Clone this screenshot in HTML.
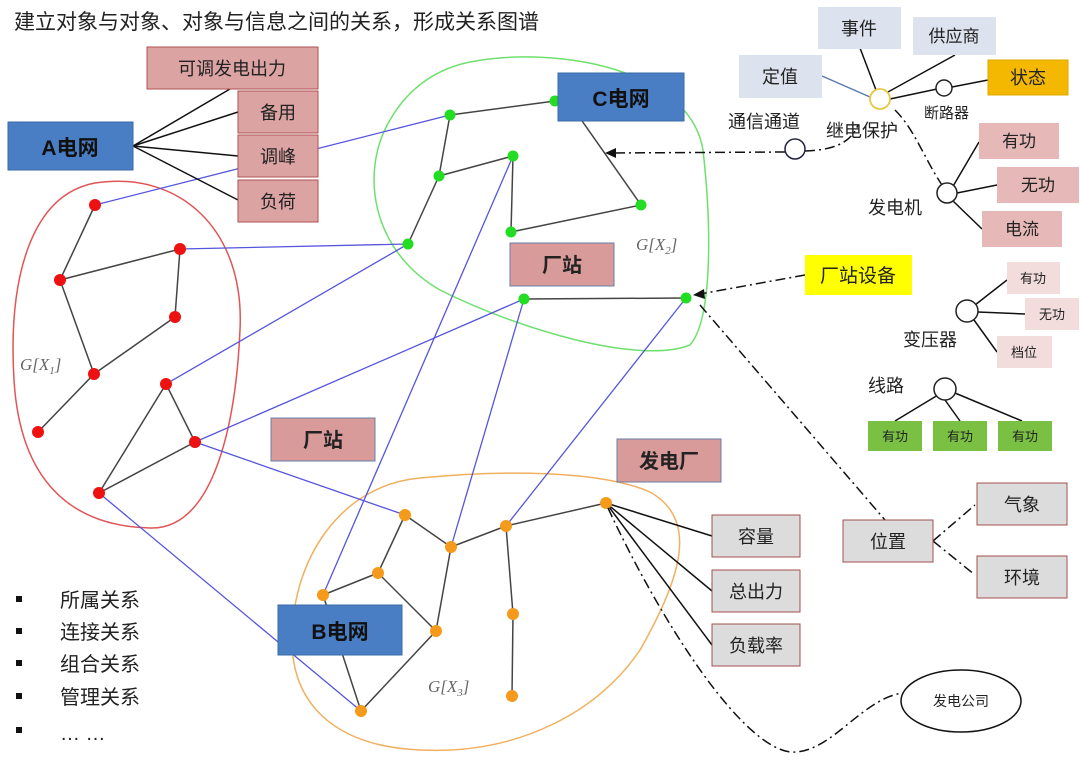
<!DOCTYPE html>
<html><head><meta charset="utf-8"><style>
body{margin:0;background:#fff}
svg{display:block}
text{font-family:"Liberation Sans","Noto Sans CJK SC",sans-serif}
.g{font-family:"Liberation Serif",serif;font-style:italic;fill:#666;font-size:17px}
</style></head><body>
<svg width="1080" height="772" viewBox="0 0 1080 772" xmlns="http://www.w3.org/2000/svg">
<text x="14" y="29" font-size="21" fill="#222">建立对象与对象、对象与信息之间的关系，形成关系图谱</text>

<!-- blobs -->
<path d="M95,183 C180,170 245,230 240,330 C236,420 215,530 150,528 C70,526 20,480 14,380 C8,280 30,195 95,183 Z" fill="none" stroke="#e05555" stroke-width="1.5"/>
<path d="M470,62 C560,45 690,70 703,150 C712,230 712,320 690,345 C640,365 520,330 440,290 C370,250 360,170 390,120 C410,85 440,68 470,62 Z" fill="none" stroke="#6ee06e" stroke-width="1.5"/>
<path d="M420,478 C500,470 600,470 650,492 C700,520 680,580 640,650 C600,710 520,755 420,750 C330,746 292,700 292,640 C292,560 340,485 420,478 Z" fill="none" stroke="#f0b060" stroke-width="1.5"/>

<!-- blue edges -->
<g stroke="#5555dd" stroke-width="1.3">
<line x1="95" y1="205" x2="450" y2="115"/>
<line x1="180" y1="249" x2="408" y2="244"/>
<line x1="166" y1="384" x2="408" y2="244"/>
<line x1="195" y1="442" x2="524" y2="299"/>
<line x1="195" y1="442" x2="405" y2="515"/>
<line x1="99" y1="493" x2="361" y2="711"/>
<line x1="323" y1="595" x2="513" y2="156"/>
<line x1="451" y1="547" x2="524" y2="299"/>
<line x1="506" y1="526" x2="686" y2="298"/>
</g>
<!-- graph edges -->
<g stroke="#444" stroke-width="1.5">
<line x1="95" y1="205" x2="60" y2="280"/><line x1="60" y1="280" x2="180" y2="249"/>
<line x1="180" y1="249" x2="175" y2="317"/><line x1="175" y1="317" x2="94" y2="374"/>
<line x1="60" y1="280" x2="94" y2="374"/><line x1="94" y1="374" x2="38" y2="432"/>
<line x1="166" y1="384" x2="195" y2="442"/><line x1="166" y1="384" x2="99" y2="493"/>
<line x1="195" y1="442" x2="99" y2="493"/>
<line x1="450" y1="115" x2="555" y2="101"/><line x1="450" y1="115" x2="439" y2="176"/>
<line x1="439" y1="176" x2="513" y2="156"/><line x1="439" y1="176" x2="408" y2="244"/>
<line x1="513" y1="156" x2="511" y2="232"/><line x1="511" y1="232" x2="641" y2="205"/>
<line x1="580" y1="118" x2="641" y2="205"/><line x1="524" y1="299" x2="686" y2="298"/>
<line x1="405" y1="515" x2="451" y2="547"/><line x1="451" y1="547" x2="506" y2="526"/>
<line x1="506" y1="526" x2="606" y2="503"/><line x1="405" y1="515" x2="378" y2="573"/>
<line x1="378" y1="573" x2="323" y2="595"/><line x1="378" y1="573" x2="436" y2="631"/>
<line x1="451" y1="547" x2="436" y2="631"/><line x1="436" y1="631" x2="361" y2="711"/>
<line x1="506" y1="526" x2="513" y2="614"/><line x1="513" y1="614" x2="512" y2="696"/>
<line x1="323" y1="595" x2="361" y2="711"/>
</g>
<!-- A tree -->
<g stroke="#111" stroke-width="1.5">
<line x1="133" y1="146" x2="230" y2="89"/><line x1="133" y1="146" x2="238" y2="112"/>
<line x1="133" y1="146" x2="238" y2="156"/><line x1="133" y1="146" x2="238" y2="200"/>
<line x1="606" y1="503" x2="712" y2="536"/><line x1="606" y1="503" x2="712" y2="591"/>
<line x1="606" y1="503" x2="712" y2="645"/>
</g>
<!-- nodes -->
<g fill="#ee1111">
<circle cx="95" cy="205" r="6"/><circle cx="180" cy="249" r="6"/><circle cx="60" cy="280" r="6"/>
<circle cx="175" cy="317" r="6"/><circle cx="94" cy="374" r="6"/><circle cx="38" cy="432" r="6"/>
<circle cx="166" cy="384" r="6"/><circle cx="195" cy="442" r="6"/><circle cx="99" cy="493" r="6"/>
</g>
<g fill="#22dd22">
<circle cx="555" cy="101" r="5.5"/><circle cx="450" cy="115" r="5.5"/><circle cx="439" cy="176" r="5.5"/>
<circle cx="513" cy="156" r="5.5"/><circle cx="511" cy="232" r="5.5"/><circle cx="641" cy="205" r="5.5"/>
<circle cx="408" cy="244" r="5.5"/><circle cx="524" cy="299" r="5.5"/><circle cx="686" cy="298" r="5.5"/>
</g>
<g fill="#f59a1a">
<circle cx="405" cy="515" r="6"/><circle cx="451" cy="547" r="6"/><circle cx="506" cy="526" r="6"/>
<circle cx="606" cy="503" r="6"/><circle cx="378" cy="573" r="6"/><circle cx="323" cy="595" r="6"/>
<circle cx="436" cy="631" r="6"/><circle cx="513" cy="614" r="6"/><circle cx="512" cy="696" r="6"/>
<circle cx="361" cy="711" r="6"/>
</g>
<text class="g" x="20" y="370">G[X<tspan font-size="11" dy="4">1</tspan><tspan dy="-4">]</tspan></text>
<text class="g" x="636" y="250">G[X<tspan font-size="11" dy="4">2</tspan><tspan dy="-4">]</tspan></text>
<text class="g" x="428" y="692">G[X<tspan font-size="11" dy="4">3</tspan><tspan dy="-4">]</tspan></text>

<!-- dash-dot connectors -->
<g fill="none" stroke="#111" stroke-width="1.5" stroke-dasharray="10,4,2,4">
<line x1="785" y1="152" x2="612" y2="153"/>
<path d="M805,151 C830,150 850,145 858,125"/>
<path d="M895,110 C915,130 925,160 942,185"/>
<line x1="805" y1="275" x2="700" y2="294"/>
<line x1="700" y1="305" x2="885" y2="520"/>
<path d="M608,508 C660,620 740,745 790,752 C830,755 860,700 902,693"/>
<path d="M933,541 L975,505"/><path d="M933,541 L975,575"/>
</g>
<polygon points="605,153 616,148 616,158" fill="#111"/>
<polygon points="693,295 704,289 705,299" fill="#111"/>

<!-- top right tree lines -->
<g stroke="#111" stroke-width="1.5">
<line x1="860" y1="48" x2="876" y2="90"/><line x1="955" y1="55" x2="888" y2="92"/>
<line x1="890" y1="99" x2="937" y2="89"/><line x1="952" y1="87" x2="988" y2="80"/>
<line x1="952" y1="188" x2="979" y2="142"/><line x1="957" y1="193" x2="997" y2="185"/>
<line x1="952" y1="200" x2="982" y2="229"/>
<line x1="975" y1="305" x2="1007" y2="280"/><line x1="978" y1="312" x2="1025" y2="314"/>
<line x1="974" y1="320" x2="997" y2="352"/>
<line x1="938" y1="395" x2="895" y2="421"/><line x1="945" y1="400" x2="960" y2="421"/>
<line x1="955" y1="393" x2="1022" y2="421"/>
</g>
<line x1="822" y1="76" x2="870" y2="97" stroke="#5577aa" stroke-width="1.3"/>
<circle cx="880" cy="99" r="10" fill="#fff" stroke="#e8c840" stroke-width="1.8"/>
<circle cx="944" cy="88" r="8" fill="#fff" stroke="#222" stroke-width="1.5"/>
<circle cx="947" cy="193" r="10" fill="#fff" stroke="#222" stroke-width="1.5"/>
<circle cx="795" cy="149" r="10" fill="#fff" stroke="#224" stroke-width="1.5"/>
<circle cx="967" cy="311" r="11" fill="#fff" stroke="#222" stroke-width="1.5"/>
<circle cx="945" cy="389" r="11" fill="#fff" stroke="#222" stroke-width="1.5"/>
<ellipse cx="961" cy="701" rx="60" ry="31" fill="#fff" stroke="#111" stroke-width="1.5"/>
<text x="961" y="706" font-size="14" text-anchor="middle" fill="#222">发电公司</text>

<!-- boxes -->
<g font-size="18" text-anchor="middle" fill="#222">
<rect x="8" y="122" width="125" height="48" fill="#4a7ec4" stroke="#3a6aa8"/><text x="70" y="155" font-weight="bold" font-size="21" fill="#111">A电网</text>
<rect x="558" y="73" width="126" height="48" fill="#4a7ec4" stroke="#3a6aa8"/><text x="621" y="106" font-weight="bold" font-size="21" fill="#111">C电网</text>
<rect x="278" y="605" width="124" height="50" fill="#4a7ec4" stroke="#3a6aa8"/><text x="340" y="639" font-weight="bold" font-size="21" fill="#111">B电网</text>
<g fill="#dca3a3" stroke="#b05050">
<rect x="147" y="47" width="171" height="42"/><rect x="238" y="91" width="80" height="42"/>
<rect x="238" y="135" width="80" height="42"/><rect x="238" y="180" width="80" height="42"/>
</g>
<text x="232" y="75">可调发电出力</text><text x="278" y="119">备用</text><text x="278" y="163">调峰</text><text x="278" y="208">负荷</text>
<g fill="#d99a9a" stroke="#6680a8">
<rect x="510" y="243" width="104" height="43"/><rect x="271" y="418" width="104" height="43"/><rect x="617" y="439" width="104" height="43"/>
</g>
<g font-weight="bold" font-size="20"><text x="562" y="272">厂站</text><text x="323" y="447">厂站</text><text x="669" y="468">发电厂</text></g>
<g fill="#dcdcdc" stroke="#a05050">
<rect x="712" y="515" width="88" height="42"/><rect x="712" y="570" width="88" height="42"/><rect x="712" y="624" width="88" height="42"/>
<rect x="843" y="520" width="90" height="42"/><rect x="977" y="483" width="90" height="42"/><rect x="977" y="556" width="90" height="42"/>
</g>
<text x="756" y="543">容量</text><text x="756" y="598">总出力</text><text x="756" y="652">负载率</text>
<text x="888" y="548">位置</text><text x="1022" y="511">气象</text><text x="1022" y="584">环境</text>
<g fill="#dce3ee"><rect x="818" y="7" width="83" height="42"/><rect x="913" y="17" width="83" height="38"/><rect x="739" y="55" width="83" height="43"/></g>
<text x="859" y="35">事件</text><text x="954" y="42" font-size="17">供应商</text><text x="780" y="83">定值</text>
<rect x="988" y="60" width="80" height="35" fill="#f5b800" stroke="#e0a800"/><text x="1028" y="84">状态</text>
<g fill="#e6b8b8"><rect x="979" y="123" width="80" height="36"/><rect x="997" y="167" width="82" height="36"/><rect x="982" y="211" width="80" height="36"/></g>
<g font-size="17"><text x="1019" y="147">有功</text><text x="1038" y="191">无功</text><text x="1022" y="235">电流</text></g>
<rect x="805" y="255" width="107" height="40" fill="#ffff00"/><text x="858" y="282" font-size="19">厂站设备</text>
<g fill="#f2dcdc"><rect x="1007" y="262" width="53" height="32"/><rect x="1025" y="298" width="54" height="32"/><rect x="997" y="336" width="55" height="32"/></g>
<g font-size="13"><text x="1033" y="283">有功</text><text x="1052" y="319">无功</text><text x="1024" y="357">档位</text></g>
<g fill="#7ac143"><rect x="868" y="421" width="54" height="30"/><rect x="933" y="421" width="54" height="30"/><rect x="998" y="421" width="54" height="30"/></g>
<g font-size="13"><text x="895" y="441">有功</text><text x="960" y="441">有功</text><text x="1025" y="441">有功</text></g>
</g>
<g font-size="18" fill="#222">
<text x="728" y="128">通信通道</text><text x="826" y="137">继电保护</text>
<text x="924" y="118" font-size="15">断路器</text><text x="868" y="214">发电机</text>
<text x="903" y="346">变压器</text><text x="868" y="392">线路</text>
</g>
<!-- bullets -->
<g font-size="20" fill="#222">
<rect x="16" y="596" width="6" height="6" fill="#111"/><text x="60" y="607">所属关系</text>
<rect x="16" y="628" width="6" height="6" fill="#111"/><text x="60" y="639">连接关系</text>
<rect x="16" y="660" width="6" height="6" fill="#111"/><text x="60" y="671">组合关系</text>
<rect x="16" y="693" width="6" height="6" fill="#111"/><text x="60" y="704">管理关系</text>
<rect x="16" y="727" width="6" height="6" fill="#111"/><text x="60" y="740">… …</text>
</g>
</svg>
</body></html>
